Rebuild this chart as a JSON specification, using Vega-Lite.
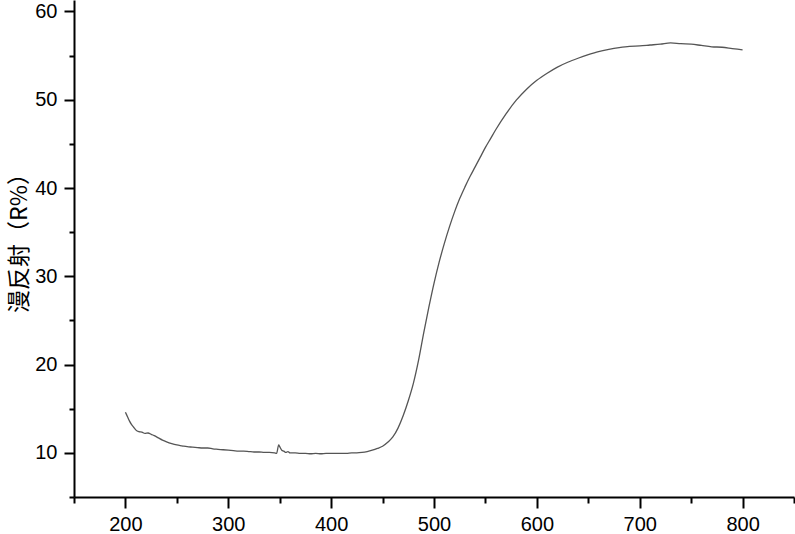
{
  "$schema": "https://vega.github.io/schema/vega-lite/v6.json",
  "width": 720,
  "height": 497,
  "autosize": {"type": "none"},
  "padding": {"left": 74, "top": 0, "right": 1, "bottom": 37},
  "background": "white",
  "config": {"view": {"stroke": null}},
  "data": {"values": [
    {"x": 200, "v": 14.6}, {"x": 202, "v": 14.1}, {"x": 204, "v": 13.6}, {"x": 206, "v": 13.2},
    {"x": 208, "v": 12.9}, {"x": 210, "v": 12.6}, {"x": 213, "v": 12.4}, {"x": 216, "v": 12.35},
    {"x": 219, "v": 12.2}, {"x": 222, "v": 12.25}, {"x": 225, "v": 12.1}, {"x": 228, "v": 11.95},
    {"x": 232, "v": 11.7}, {"x": 236, "v": 11.45}, {"x": 240, "v": 11.25}, {"x": 245, "v": 11.05},
    {"x": 250, "v": 10.9}, {"x": 255, "v": 10.8}, {"x": 260, "v": 10.7}, {"x": 265, "v": 10.65},
    {"x": 270, "v": 10.6}, {"x": 275, "v": 10.55}, {"x": 280, "v": 10.55}, {"x": 285, "v": 10.45},
    {"x": 290, "v": 10.4}, {"x": 295, "v": 10.35}, {"x": 300, "v": 10.3}, {"x": 305, "v": 10.25},
    {"x": 310, "v": 10.2}, {"x": 315, "v": 10.2}, {"x": 320, "v": 10.15}, {"x": 325, "v": 10.1},
    {"x": 330, "v": 10.1}, {"x": 335, "v": 10.05}, {"x": 340, "v": 10.05}, {"x": 345, "v": 10.0},
    {"x": 347, "v": 9.95}, {"x": 349, "v": 10.9}, {"x": 350, "v": 10.7}, {"x": 352, "v": 10.3},
    {"x": 354, "v": 10.2}, {"x": 356, "v": 10.05}, {"x": 358, "v": 10.15}, {"x": 360, "v": 10.0},
    {"x": 365, "v": 10.0}, {"x": 370, "v": 9.95}, {"x": 375, "v": 9.95}, {"x": 380, "v": 9.9},
    {"x": 385, "v": 9.95}, {"x": 390, "v": 9.9}, {"x": 395, "v": 9.95}, {"x": 400, "v": 9.95},
    {"x": 405, "v": 9.95}, {"x": 410, "v": 9.95}, {"x": 415, "v": 9.95}, {"x": 420, "v": 10.0},
    {"x": 425, "v": 10.0}, {"x": 430, "v": 10.05}, {"x": 435, "v": 10.15}, {"x": 440, "v": 10.3},
    {"x": 445, "v": 10.5}, {"x": 450, "v": 10.75}, {"x": 455, "v": 11.2}, {"x": 460, "v": 11.8},
    {"x": 465, "v": 12.8}, {"x": 470, "v": 14.2}, {"x": 475, "v": 15.9}, {"x": 480, "v": 17.9},
    {"x": 485, "v": 20.5}, {"x": 490, "v": 23.6}, {"x": 495, "v": 26.5}, {"x": 500, "v": 29.2},
    {"x": 505, "v": 31.6}, {"x": 510, "v": 33.7}, {"x": 515, "v": 35.6}, {"x": 520, "v": 37.3},
    {"x": 525, "v": 38.8}, {"x": 530, "v": 40.1}, {"x": 535, "v": 41.3}, {"x": 540, "v": 42.4},
    {"x": 545, "v": 43.5}, {"x": 550, "v": 44.6}, {"x": 555, "v": 45.6}, {"x": 560, "v": 46.6},
    {"x": 570, "v": 48.4}, {"x": 580, "v": 49.95}, {"x": 590, "v": 51.2}, {"x": 600, "v": 52.2},
    {"x": 610, "v": 53.0}, {"x": 620, "v": 53.7}, {"x": 630, "v": 54.25}, {"x": 640, "v": 54.7},
    {"x": 650, "v": 55.1}, {"x": 660, "v": 55.45}, {"x": 670, "v": 55.7}, {"x": 680, "v": 55.9},
    {"x": 690, "v": 56.05}, {"x": 700, "v": 56.1}, {"x": 710, "v": 56.2}, {"x": 720, "v": 56.3},
    {"x": 730, "v": 56.45}, {"x": 740, "v": 56.35}, {"x": 750, "v": 56.3}, {"x": 760, "v": 56.15},
    {"x": 770, "v": 56.0}, {"x": 780, "v": 55.95}, {"x": 790, "v": 55.8}, {"x": 800, "v": 55.65}
  ]},
  "mark": {"type": "line", "color": "#555555", "strokeWidth": 1.3, "interpolate": "monotone", "clip": true},
  "encoding": {
    "x": {
      "field": "x", "type": "quantitative",
      "scale": {"domain": [150, 850], "nice": false, "zero": false},
      "axis": {
        "title": null,
        "values": [150, 200, 250, 300, 350, 400, 450, 500, 550, 600, 650, 700, 750, 800, 850],
        "labelExpr": "datum.value % 100 === 0 ? datum.label : ''",
        "grid": false,
        "domainColor": "black", "domainWidth": 2,
        "tickColor": "black", "tickWidth": 2,
        "tickSize": {"expr": "datum.value % 100 === 0 ? 11 : 6"},
        "labelFont": "Liberation Sans", "labelFontSize": 20, "labelColor": "black",
        "labelPadding": 6, "labelFlush": false, "labelOverlap": false
      }
    },
    "y": {
      "field": "v", "type": "quantitative",
      "scale": {"domain": [5, 61.3], "nice": false, "zero": false},
      "axis": {
        "title": "漫反射（R%）",
        "titleFont": "Noto Sans CJK SC", "titleFontSize": 23, "titleFontWeight": "normal",
        "titleColor": "black", "titleX": -43, "titleY": 237,
        "values": [5, 10, 15, 20, 25, 30, 35, 40, 45, 50, 55, 60],
        "labelExpr": "datum.value % 10 === 0 ? datum.label : ''",
        "grid": false,
        "domainColor": "black", "domainWidth": 2,
        "tickColor": "black", "tickWidth": 2,
        "tickSize": {"expr": "datum.value % 10 === 0 ? 10 : 5"},
        "labelFont": "Liberation Sans", "labelFontSize": 20, "labelColor": "black",
        "labelPadding": 7, "labelFlush": false, "labelOverlap": false
      }
    }
  }
}
